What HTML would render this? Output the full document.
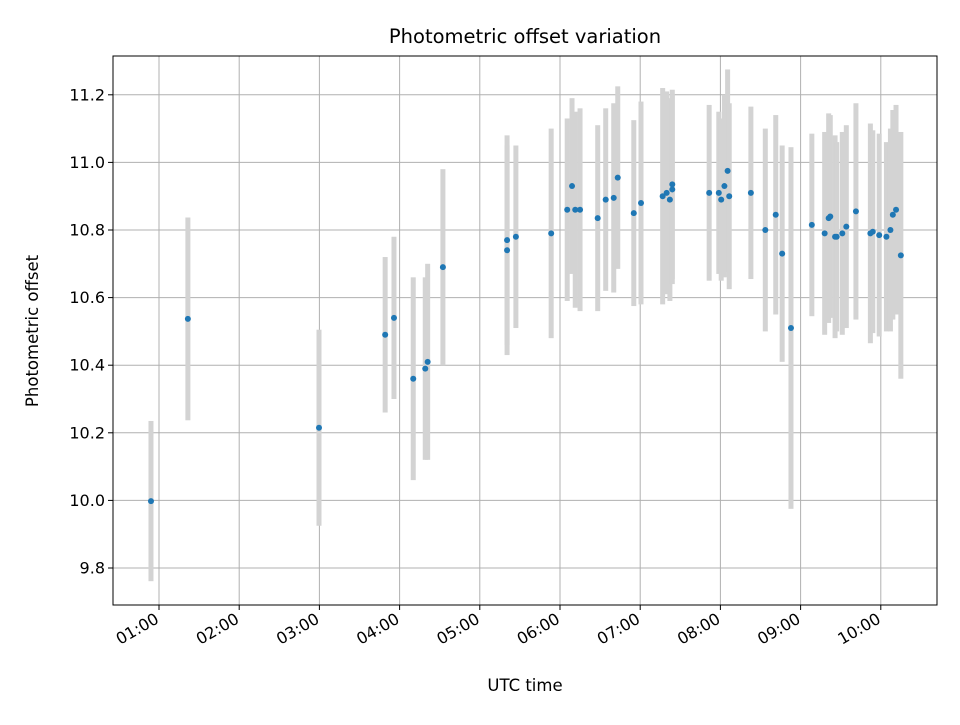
<!DOCTYPE html>
<html><head><meta charset="utf-8"><style>
body{margin:0;background:#fff;font-family:"Liberation Sans","DejaVu Sans",sans-serif}
svg text{font-family:"DejaVu Sans","Liberation Sans",sans-serif}
</style></head><body>
<svg id="chart" width="960" height="720" viewBox="0 0 960 720" xmlns="http://www.w3.org/2000/svg">
<rect width="960" height="720" fill="#fff"/>
<text x="525" y="43" font-size="19.5" text-anchor="middle">Photometric offset variation</text>
<text x="525" y="691" font-size="16.5" text-anchor="middle">UTC time</text>
<text transform="translate(38,331) rotate(-90)" font-size="16.5" text-anchor="middle">Photometric offset</text>
<g id="grid"></g><g id="bars"></g><g id="pts"></g><g id="axes"></g>
</svg>
<script>
const times=[0.90,1.36,2.995,3.82,3.93,4.17,4.32,4.35,4.54,5.34,5.34,5.45,5.89,6.09,6.15,6.19,6.25,6.47,6.57,6.67,6.72,6.92,7.01,7.28,7.33,7.37,7.40,7.40,7.86,7.98,8.01,8.05,8.09,8.11,8.38,8.56,8.69,8.77,8.88,9.14,9.30,9.35,9.37,9.43,9.45,9.52,9.57,9.69,9.87,9.90,9.98,10.07,10.12,10.15,10.19,10.25];
const offsets=[9.998,10.537,10.215,10.49,10.54,10.36,10.39,10.41,10.69,10.77,10.74,10.78,10.79,10.86,10.93,10.86,10.86,10.835,10.89,10.895,10.955,10.85,10.88,10.90,10.91,10.89,10.935,10.92,10.91,10.91,10.89,10.93,10.975,10.90,10.91,10.80,10.845,10.73,10.51,10.815,10.79,10.835,10.84,10.78,10.78,10.79,10.81,10.855,10.79,10.795,10.785,10.78,10.80,10.845,10.86,10.725];
const errors=[0.237,0.30,0.29,0.23,0.24,0.30,0.27,0.29,0.29,0.31,0.31,0.27,0.31,0.27,0.26,0.29,0.30,0.275,0.27,0.28,0.27,0.275,0.30,0.32,0.30,0.30,0.28,0.28,0.26,0.24,0.24,0.27,0.30,0.275,0.255,0.30,0.295,0.32,0.535,0.27,0.30,0.31,0.30,0.30,0.28,0.30,0.30,0.32,0.325,0.30,0.30,0.28,0.30,0.31,0.31,0.365];
const yTicks=[9.8,10.0,10.2,10.4,10.6,10.8,11.0,11.2];
const xTicks=[1,2,3,4,5,6,7,8,9,10];
const xTickLabels=["01:00","02:00","03:00","04:00","05:00","06:00","07:00","08:00","09:00","10:00"];
const L=113,R=937,T=56,B=605;
const xs=h=>159+(h-1)*80.2;
const ys=v=>500.4-(v-10)*338;
const NS="http://www.w3.org/2000/svg";
function mk(tag,attrs,parent,txt){const e=document.createElementNS(NS,tag);for(const k in attrs)e.setAttribute(k,attrs[k]);if(txt!==undefined)e.textContent=txt;parent.appendChild(e);return e;}
const grid=document.getElementById('grid'),bars=document.getElementById('bars'),pts=document.getElementById('pts'),axes=document.getElementById('axes');
xTicks.forEach((t,i)=>{const x=xs(t);
 const g=mk('line',{x1:x,x2:x,y1:T,y2:B,stroke:'#b0b0b0','stroke-width':1},grid);
 
 const tk=mk('line',{x1:x,x2:x,y1:B,y2:B+5,stroke:'#000','stroke-width':1},axes);
 
 const lb=mk('text',{transform:`translate(${x+1},${B+17}) rotate(-30)`,'font-size':16,'text-anchor':'end'},axes,xTickLabels[i]);
 
});
yTicks.forEach(t=>{const y=ys(t);
 const g=mk('line',{x1:L,x2:R,y1:y,y2:y,stroke:'#b0b0b0','stroke-width':1},grid);
 
 const tk=mk('line',{x1:L-5,x2:L,y1:y,y2:y,stroke:'#000','stroke-width':1},axes);
 
 const lb=mk('text',{x:L-8,y:y+5.5,'font-size':16,'text-anchor':'end'},axes,t.toFixed(1));
 
});
times.forEach((t,i)=>{const x=xs(t);
 const b=mk('rect',{x:x-2.5,y:ys(offsets[i]+errors[i]),width:5,height:ys(offsets[i]-errors[i])-ys(offsets[i]+errors[i]),fill:'#d3d3d3'},bars);
 
 const c=mk('circle',{cx:x,cy:ys(offsets[i]),r:3,fill:'#1f77b4'},pts);
 
});
const fr=mk('rect',{x:L,y:T,width:R-L,height:B-T,fill:'none',stroke:'#000','stroke-width':1},axes);

</script>
</body></html>
